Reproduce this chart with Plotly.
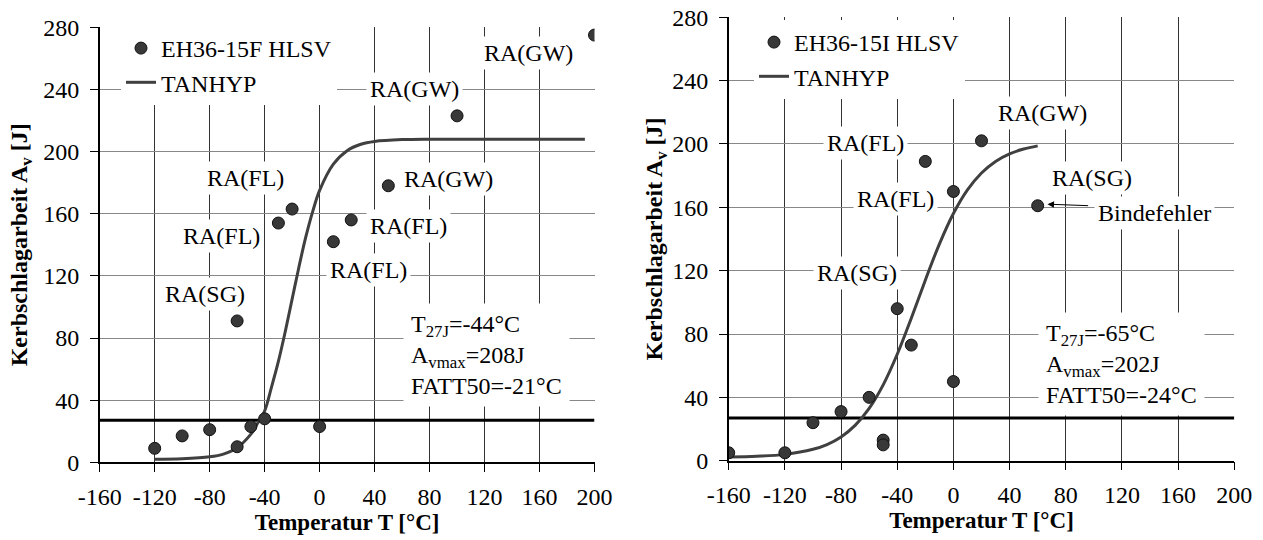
import plotly.graph_objects as go

# ---------------- data ----------------
# Left panel: EH36-15F HLSV
T_15F = [-120, -100, -80, -60, -60, -50, -40, -30, -20, 0, 10, 23, 50, 100, 200]
A_15F = [9, 17, 21, 91, 10, 23, 28, 154, 163, 23, 142, 156, 178, 223, 275]

# TANHYP curve (left)
T_fit_F = [-120, -100, -80, -70, -60, -50, -45, -40, -35, -30, -25, -20, -15, -10, -5, 0,
           10, 20, 30, 40, 60, 80, 120, 160, 193]
A_fit_F = [2.0, 2.3, 3.5, 5.3, 9.4, 18.1, 25.3, 33.0, 48.4, 64.9, 84.1, 105.0, 125.9, 145.2,
           161.5, 175.0, 191.9, 200.6, 204.7, 206.5, 207.7, 208.0, 208.0, 208.0, 208.0]

# Right panel: EH36-15I HLSV
T_15I = [-160, -120, -100, -80, -60, -50, -50, -40, -30, -20, 0, 0, 20, 60]
A_15I = [5, 5, 24, 31, 40, 13, 10, 96, 73, 189, 170, 50, 202, 161]

T_fit_I = [-160, -140, -120, -100, -90, -80, -70, -60, -50, -40, -30, -20, -10, 0,
           10, 20, 30, 40, 50, 60]
A_fit_I = [2.3, 2.8, 4.0, 7.2, 10.2, 15.0, 22.3, 33.0, 47.9, 67.2, 90.0, 114.0, 136.8, 156.1,
           171.0, 181.7, 189.0, 193.8, 196.8, 198.8]

# 27 J threshold line
T_thr = [-160, 200]
A_thr = [27, 27]

# labels (text, T, A)
labels_F = [("RA(GW)", 152, 263.4), ("RA(GW)", 69, 240.5), ("RA(FL)", -53.6, 183),
            ("RA(GW)", 94, 182.4), ("RA(FL)", -71.5, 145.8), ("RA(FL)", 64.5, 152),
            ("RA(FL)", 35.5, 123.6), ("RA(SG)", -83.6, 108.5)]
labels_I = [("RA(GW)", 63.6, 219.7), ("RA(FL)", -62.7, 200.8), ("RA(SG)", 98.9, 178.4),
            ("RA(FL)", -40.9, 165), ("RA(SG)", -68.7, 118.3)]

stats_F = "T<sub>27J</sub>=-44°C<br>A<sub>vmax</sub>=208J<br>FATT50=-21°C"
stats_I = "T<sub>27J</sub>=-65°C<br>A<sub>vmax</sub>=202J<br>FATT50=-24°C"

x_ticks = [-160, -120, -80, -40, 0, 40, 80, 120, 160, 200]
x_tick_text = ["-160", "-120", "-80", "-40", "0", "40", "80", "120", "160", "200"]
y_ticks = [0, 40, 80, 120, 160, 200, 240, 280]
y_tick_text = ["0", "40", "80", "120", "160", "200", "240", "280"]

FONT = "Liberation Serif"
W, H = 1263, 540

fig = go.Figure()

# left
fig.add_trace(go.Scatter(x=T_thr, y=A_thr, mode="lines", line=dict(color="black", width=3),
                         showlegend=False, xaxis="x", yaxis="y", hoverinfo="skip"))
fig.add_trace(go.Scatter(x=T_fit_F, y=A_fit_F, mode="lines", name="TANHYP",
                         line=dict(color="#404040", width=3, shape="spline"),
                         xaxis="x", yaxis="y", legend="legend", legendrank=2))
fig.add_trace(go.Scatter(x=T_15F, y=A_15F, mode="markers", name="EH36-15F HLSV",
                         marker=dict(color="#383838", size=12, line=dict(color="#111111", width=1)),
                         xaxis="x", yaxis="y", legend="legend", legendrank=1))
# right
fig.add_trace(go.Scatter(x=T_thr, y=A_thr, mode="lines", line=dict(color="black", width=3),
                         showlegend=False, xaxis="x2", yaxis="y2", hoverinfo="skip"))
fig.add_trace(go.Scatter(x=T_fit_I, y=A_fit_I, mode="lines", name="TANHYP",
                         line=dict(color="#404040", width=3, shape="spline"),
                         xaxis="x2", yaxis="y2", legend="legend2", legendrank=2))
fig.add_trace(go.Scatter(x=T_15I, y=A_15I, mode="markers", name="EH36-15I HLSV",
                         marker=dict(color="#383838", size=12, line=dict(color="#111111", width=1)),
                         xaxis="x2", yaxis="y2", legend="legend2", legendrank=1))

tfont = dict(family=FONT, size=24, color="black")
ann = []
for txt, t, a in labels_F:
    ann.append(dict(text=txt, x=t, y=a, xref="x", yref="y", showarrow=False,
                    bgcolor="white", borderpad=3, font=tfont))
for txt, t, a in labels_I:
    ann.append(dict(text=txt, x=t, y=a, xref="x2", yref="y2", showarrow=False,
                    bgcolor="white", borderpad=3, font=tfont))
ann.append(dict(text=stats_F, x=60.6, y=69.1, xref="x", yref="y", xanchor="left", yanchor="middle",
                align="left", showarrow=False, bgcolor="white", borderpad=7, font=tfont))
ann.append(dict(text=stats_I, x=60.5, y=61, xref="x2", yref="y2", xanchor="left", yanchor="middle",
                align="left", showarrow=False, bgcolor="white", borderpad=7, font=tfont))
ann.append(dict(text="Bindefehler", x=143.3, y=156.4, xref="x2", yref="y2", showarrow=False,
                bgcolor="white", borderpad=3, font=tfont))
ann.append(dict(text="", x=67, y=162, xref="x2", yref="y2", ax=97, ay=161, axref="x2", ayref="y2",
                showarrow=True, arrowhead=2, arrowsize=1.3, arrowwidth=1, arrowcolor="black"))

def xax(domain, anchor):
    return dict(domain=domain, anchor=anchor, range=[-160, 200], tickvals=x_ticks,
                ticktext=x_tick_text, automargin=False,
                showgrid=True, gridcolor="#333333", gridwidth=1, zeroline=False,
                showline=True, linecolor="black", linewidth=1.5,
                ticks="outside", ticklen=8, tickcolor="black", ticklabelstandoff=4,
                tickfont=dict(family=FONT, size=24, color="black"),
                title=dict(text="<b>Temperatur T [°C]</b>", standoff=5,
                           font=dict(family=FONT, size=23, color="black")))

def yax(domain, anchor, title_standoff):
    return dict(domain=domain, anchor=anchor, range=[0, 280], tickvals=y_ticks,
                ticktext=y_tick_text, automargin=False,
                showgrid=True, gridcolor="#888888", gridwidth=1, zeroline=False,
                showline=True, linecolor="black", linewidth=1.5,
                ticks="outside", ticklen=8, tickcolor="black", ticklabelstandoff=6,
                tickfont=dict(family=FONT, size=24, color="black"),
                title=dict(text="<b>Kerbschlagarbeit A<sub>v</sub> [J]</b>", standoff=title_standoff,
                           font=dict(family=FONT, size=24, color="black")))

leg_font = dict(family=FONT, size=24, color="black")
fig.update_layout(
    template="none",
    width=W, height=H, margin=dict(l=0, r=0, t=0, b=0, autoexpand=False),
    paper_bgcolor="white", plot_bgcolor="white",
    font=dict(family=FONT, size=24, color="black"),
    xaxis=xax([99.7 / W, 594.5 / W], "y"),
    yaxis=yax([1 - 462.3 / H, 1 - 27.3 / H], "x", 9),
    xaxis2=xax([728.7 / W, 1234.3 / W], "y2"),
    yaxis2=yax([1 - 460.7 / H, 1 - 17.3 / H], "x2", 3),
    legend=dict(x=121 / W, y=1 - 26 / H, xanchor="left", yanchor="top", bgcolor="white",
                borderwidth=0, font=leg_font, traceorder="normal"),
    legend2=dict(x=754 / W, y=1 - 20 / H, xanchor="left", yanchor="top", bgcolor="white",
                 borderwidth=0, font=leg_font, traceorder="normal"),
    annotations=ann,
    showlegend=True,
)

fig.write_html("out.html")
